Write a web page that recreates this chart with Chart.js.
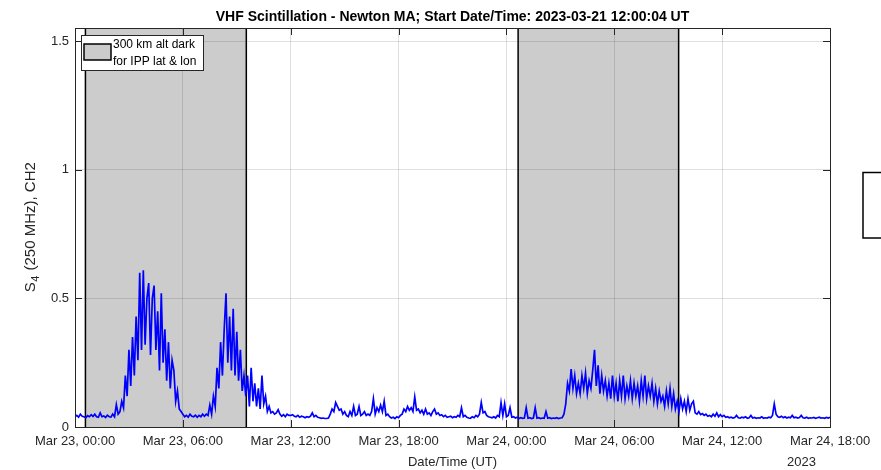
<!DOCTYPE html>
<html>
<head>
<meta charset="utf-8">
<title>VHF Scintillation - Newton MA</title>
<script src="https://cdn.jsdelivr.net/npm/chart.js@4.4.0/dist/chart.umd.min.js"></script>
<style>
  html, body { margin: 0; padding: 0; background: #fff; }
  canvas { display: block; }
</style>
</head>
<body>
<canvas id="s4Chart" width="881" height="470"></canvas>
<script>
// time axis is in hours after Mar 23 00:00 UT
const startHour = 0;
const sampleStep = 0.1;

// S4 index, CH2, one value per 6 minutes
const s4Values = [
  0.040,0.045,0.038,0.050,0.042,0.040,0.036,0.044,0.040,0.048,
  0.041,0.050,0.040,0.038,0.055,0.040,0.043,0.037,0.046,0.040,
  0.039,0.050,0.040,0.087,0.050,0.060,0.100,0.075,0.200,0.120,
  0.300,0.160,0.350,0.200,0.430,0.260,0.600,0.300,0.610,0.320,
  0.500,0.560,0.280,0.500,0.550,0.300,0.450,0.220,0.520,0.250,
  0.380,0.180,0.330,0.150,0.260,0.220,0.100,0.140,0.070,0.060,
  0.050,0.040,0.045,0.038,0.050,0.042,0.040,0.046,0.038,0.045,
  0.040,0.050,0.042,0.050,0.045,0.085,0.050,0.120,0.080,0.230,
  0.150,0.330,0.200,0.380,0.520,0.250,0.430,0.220,0.460,0.200,
  0.370,0.180,0.300,0.140,0.200,0.120,0.200,0.080,0.230,0.100,
  0.170,0.080,0.150,0.070,0.200,0.090,0.120,0.060,0.080,0.055,
  0.060,0.050,0.055,0.067,0.050,0.042,0.048,0.040,0.050,0.045,
  0.045,0.048,0.042,0.040,0.045,0.038,0.042,0.040,0.036,0.040,
  0.038,0.042,0.055,0.040,0.045,0.038,0.036,0.034,0.035,0.033,
  0.033,0.035,0.050,0.070,0.060,0.095,0.080,0.065,0.070,0.050,
  0.060,0.045,0.040,0.060,0.045,0.080,0.045,0.050,0.080,0.045,
  0.050,0.060,0.045,0.050,0.045,0.060,0.110,0.050,0.075,0.060,
  0.085,0.060,0.100,0.045,0.050,0.040,0.035,0.038,0.033,0.040,
  0.036,0.045,0.050,0.070,0.060,0.080,0.065,0.075,0.060,0.117,
  0.065,0.070,0.055,0.065,0.050,0.070,0.050,0.055,0.045,0.060,
  0.070,0.050,0.055,0.045,0.048,0.040,0.045,0.038,0.040,0.042,
  0.036,0.040,0.038,0.045,0.040,0.075,0.040,0.045,0.038,0.035,
  0.034,0.040,0.036,0.045,0.040,0.050,0.095,0.055,0.060,0.045,
  0.040,0.038,0.036,0.040,0.035,0.045,0.040,0.095,0.045,0.090,
  0.040,0.045,0.075,0.038,0.040,0.035,0.038,0.033,0.036,0.034,
  0.035,0.075,0.034,0.036,0.033,0.035,0.075,0.034,0.036,0.033,
  0.035,0.034,0.060,0.034,0.036,0.033,0.035,0.034,0.036,0.033,
  0.035,0.036,0.050,0.090,0.170,0.140,0.225,0.150,0.200,0.130,
  0.170,0.130,0.200,0.150,0.210,0.130,0.180,0.150,0.220,0.300,
  0.160,0.240,0.130,0.200,0.140,0.180,0.120,0.170,0.110,0.200,
  0.120,0.170,0.100,0.180,0.120,0.200,0.110,0.160,0.120,0.180,
  0.110,0.170,0.120,0.160,0.100,0.180,0.120,0.200,0.110,0.160,
  0.120,0.170,0.100,0.150,0.090,0.140,0.100,0.120,0.080,0.140,
  0.090,0.150,0.080,0.130,0.070,0.100,0.060,0.110,0.070,0.100,
  0.060,0.110,0.065,0.090,0.100,0.055,0.050,0.060,0.048,0.052,
  0.045,0.050,0.042,0.045,0.040,0.050,0.042,0.055,0.040,0.048,
  0.040,0.045,0.038,0.040,0.036,0.038,0.035,0.037,0.045,0.036,
  0.035,0.038,0.036,0.040,0.034,0.036,0.045,0.035,0.037,0.034,
  0.036,0.035,0.040,0.034,0.036,0.035,0.038,0.036,0.045,0.090,
  0.050,0.040,0.038,0.042,0.036,0.040,0.035,0.038,0.036,0.045,
  0.036,0.038,0.035,0.037,0.045,0.036,0.035,0.038,0.034,0.036,
  0.035,0.037,0.034,0.036,0.038,0.035,0.036,0.034,0.037,0.035,
  0.038
];

// 300 km altitude darkness windows (hours)
const darkStart = [0.58, 24.65];
const darkEnd = [9.53, 33.58];

const tickHours = [0, 6, 12, 18, 24, 30, 36, 42];
const tickLabels = ['Mar 23, 00:00', 'Mar 23, 06:00', 'Mar 23, 12:00', 'Mar 23, 18:00',
                    'Mar 24, 00:00', 'Mar 24, 06:00', 'Mar 24, 12:00', 'Mar 24, 18:00'];
const yTickValues = [0, 0.5, 1, 1.5];

const FONT = '"Liberation Sans", Arial, Helvetica, sans-serif';
const AXIS_COLOR = '#262626';

const points = s4Values.map((v, i) => ({ x: startHour + i * sampleStep, y: v }));

const matlabLook = {
    id: 'matlabLook',
    beforeDraw(chart) {
        const ctx = chart.ctx;
        const area = chart.chartArea;
        const xs = chart.scales.x;
        ctx.save();
        for (let i = 0; i < darkStart.length; i++) {
            const x0 = xs.getPixelForValue(darkStart[i]);
            const x1 = xs.getPixelForValue(darkEnd[i]);
            ctx.fillStyle = '#cccccc';
            ctx.fillRect(x0, area.top, x1 - x0, area.bottom - area.top);
            ctx.strokeStyle = '#000';
            ctx.lineWidth = 1.5;
            ctx.beginPath();
            ctx.moveTo(x0, area.top); ctx.lineTo(x0, area.bottom);
            ctx.moveTo(x1, area.top); ctx.lineTo(x1, area.bottom);
            ctx.stroke();
        }
        ctx.restore();
    },
    afterDraw(chart) {
        const ctx = chart.ctx;
        const area = chart.chartArea;
        const xs = chart.scales.x;
        const ys = chart.scales.y;
        ctx.save();

        // axes box with inward ticks on all sides
        ctx.strokeStyle = AXIS_COLOR;
        ctx.lineWidth = 1;
        ctx.strokeRect(area.left + 0.5, area.top + 0.5, area.right - area.left, area.bottom - area.top);
        const tl = 7;
        ctx.beginPath();
        tickHours.forEach(h => {
            const x = Math.round(xs.getPixelForValue(h)) + 0.5;
            ctx.moveTo(x, area.bottom); ctx.lineTo(x, area.bottom - tl);
            ctx.moveTo(x, area.top); ctx.lineTo(x, area.top + tl);
        });
        yTickValues.forEach(v => {
            const y = Math.round(ys.getPixelForValue(v)) + 0.5;
            ctx.moveTo(area.left, y); ctx.lineTo(area.left + tl, y);
            ctx.moveTo(area.right, y); ctx.lineTo(area.right - tl, y);
        });
        ctx.stroke();

        // legend
        const lx = area.left + 6, ly = area.top + 7;
        ctx.fillStyle = '#fff';
        ctx.fillRect(lx, ly, 122, 35);
        ctx.strokeStyle = AXIS_COLOR;
        ctx.lineWidth = 1;
        ctx.strokeRect(lx + 0.5, ly + 0.5, 122, 35);
        ctx.fillStyle = '#cccccc';
        ctx.fillRect(lx + 3, ly + 9, 27, 16);
        ctx.strokeStyle = '#000';
        ctx.lineWidth = 1.5;
        ctx.strokeRect(lx + 3, ly + 9, 27, 16);
        ctx.fillStyle = '#000';
        ctx.font = '12px ' + FONT;
        ctx.textBaseline = 'middle';
        ctx.textAlign = 'left';
        ctx.fillText('300 km alt dark', lx + 32, ly + 10);
        ctx.fillText('for IPP lat & lon', lx + 32, ly + 27);

        // y axis title with subscript
        ctx.fillStyle = AXIS_COLOR;
        ctx.translate(31, (area.top + area.bottom) / 2);
        ctx.rotate(-Math.PI / 2);
        const main = '15px ' + FONT, sub = '11px ' + FONT;
        ctx.font = main; const wS = ctx.measureText('S').width;
        const rest = ' (250 MHz), CH2'; const wR = ctx.measureText(rest).width;
        ctx.font = sub; const w4 = ctx.measureText('4').width + 1;
        let x = -(wS + w4 + wR) / 2;
        ctx.font = main; ctx.fillText('S', x, 0); x += wS + 0.5;
        ctx.font = sub; ctx.fillText('4', x, 5); x += w4;
        ctx.font = main; ctx.fillText(rest, x, 0);
        ctx.setTransform(1, 0, 0, 1, 0, 0);

        // year under the last tick label
        ctx.font = '13px ' + FONT;
        ctx.textAlign = 'left';
        ctx.textBaseline = 'alphabetic';
        ctx.fillText('2023', 787, 466);

        // cut-off box at the right edge
        ctx.strokeStyle = '#000';
        ctx.lineWidth = 1.5;
        ctx.strokeRect(863, 172.5, 30, 65.5);
        ctx.restore();
    }
};

new Chart(document.getElementById('s4Chart').getContext('2d'), {
    type: 'line',
    data: {
        datasets: [{
            label: 'S4 CH2',
            data: points,
            borderColor: '#0000ff',
            borderWidth: 1.7,
            pointRadius: 0,
            tension: 0,
            fill: false
        }]
    },
    options: {
        responsive: false,
        animation: false,
        layout: { padding: { left: 0, right: 51, top: 0, bottom: 0 } },
        plugins: {
            legend: { display: false },
            tooltip: { enabled: false },
            title: {
                display: true,
                fullSize: false,
                text: 'VHF Scintillation - Newton MA; Start Date/Time: 2023-03-21 12:00:04 UT',
                color: '#000',
                font: { family: FONT, size: 14, weight: 'bold' },
                padding: { top: 9, bottom: 2.2 }
            }
        },
        scales: {
            x: {
                type: 'linear',
                min: 0,
                max: 42,
                afterFit(scale) { scale.height = 43; },
                afterBuildTicks(scale) { scale.ticks = tickHours.map(v => ({ value: v })); },
                ticks: {
                    autoSkip: false,
                    maxRotation: 0,
                    padding: 7,
                    color: AXIS_COLOR,
                    font: { family: FONT, size: 13 },
                    callback: (v) => tickLabels[tickHours.indexOf(v)]
                },
                grid: { color: 'rgba(38,38,38,0.15)', drawTicks: false },
                border: { display: false },
                title: {
                    display: true,
                    text: 'Date/Time (UT)',
                    color: AXIS_COLOR,
                    font: { family: FONT, size: 13 },
                    padding: { top: 0, bottom: 0 }
                }
            },
            y: {
                min: 0,
                max: 1.552,
                afterFit(scale) { scale.width = 75; },
                afterBuildTicks(scale) { scale.ticks = yTickValues.map(v => ({ value: v })); },
                ticks: {
                    padding: 6,
                    color: AXIS_COLOR,
                    font: { family: FONT, size: 13 },
                    callback: (v) => String(v)
                },
                grid: { color: 'rgba(38,38,38,0.15)', drawTicks: false },
                border: { display: false }
            }
        }
    },
    plugins: [matlabLook]
});
</script>
</body>
</html>
